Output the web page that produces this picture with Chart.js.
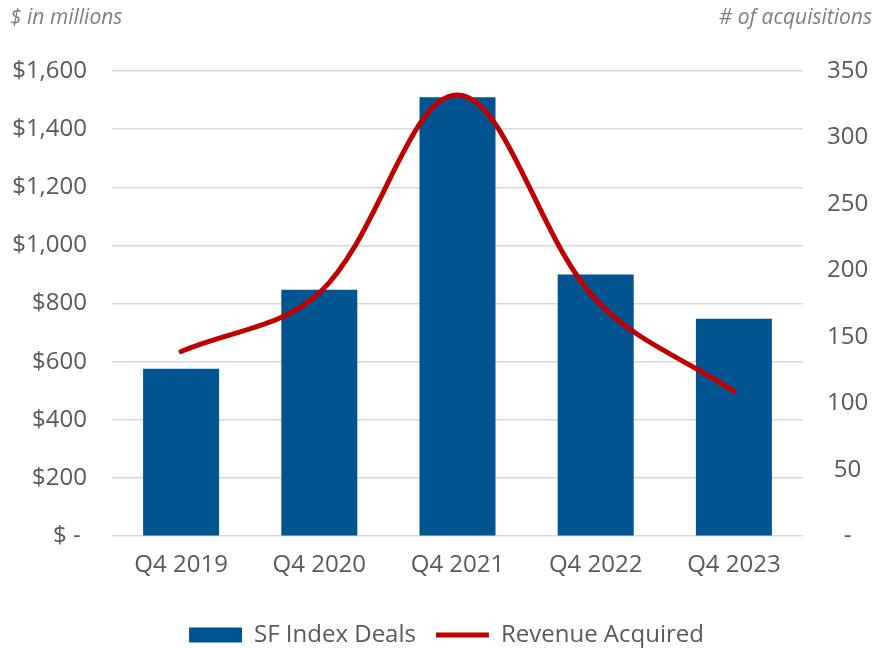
<!DOCTYPE html>
<html>
<head>
<meta charset="utf-8">
<script src="https://cdn.jsdelivr.net/npm/chart.js@4"></script>
<style>
  html, body { margin: 0; padding: 0; background: #ffffff; }
  #wrap { position: relative; width: 875px; height: 648px; }
</style>
</head>
<body>
<div id="wrap"><canvas id="c" width="875" height="648"></canvas></div>
<script>
const categories = ['Q4 2019', 'Q4 2020', 'Q4 2021', 'Q4 2022', 'Q4 2023'];
const dealValues = [576, 848, 1510, 900, 748];          // $ in millions (left axis)
const acquisitionCounts = [139, 183, 332, 178, 109];    // # of acquisitions (right axis)
const leftTicks = [0, 200, 400, 600, 800, 1000, 1200, 1400, 1600];
const rightTicks = [0, 50, 100, 150, 200, 250, 300, 350];
const seriesNames = ['SF Index Deals', 'Revenue Acquired'];
const axisTitles = ['$ in millions', '# of acquisitions'];

const textColor = '#595959';
const font = { family: "'Open Sans', sans-serif", size: 24 };

const titlesPlugin = {
  id: 'axisTitles',
  afterLayout(chart) {
    if (chart.legend) { chart.legend.left += 9; chart.legend.right += 9; }
  },
  afterDraw(chart) {
    const ctx = chart.ctx;
    ctx.save();
    ctx.fillStyle = '#7f7f7f';
    ctx.font = "italic 21px 'Open Sans', sans-serif";
    ctx.textBaseline = 'middle';
    ctx.textAlign = 'left';
    ctx.fillText(axisTitles[0], 10, 18);
    ctx.textAlign = 'right';
    ctx.fillText(axisTitles[1], 872, 18);
    ctx.restore();
  }
};

new Chart(document.getElementById('c'), {
  type: 'bar',
  data: {
    labels: categories,
    datasets: [
      {
        type: 'bar',
        label: seriesNames[0],
        data: dealValues,
        backgroundColor: '#005591',
        borderWidth: 0,
        yAxisID: 'y',
        order: 1,
        barPercentage: 0.55,
        categoryPercentage: 1.0,
        pointStyle: 'rect'
      },
      {
        type: 'line',
        label: seriesNames[1],
        data: acquisitionCounts,
        borderColor: '#C00000',
        backgroundColor: '#C00000',
        borderWidth: 5,
        borderCapStyle: 'round',
        tension: 0.35,
        pointRadius: 0,
        pointStyle: 'line',
        fill: false,
        yAxisID: 'y1',
        order: 0
      }
    ]
  },
  options: {
    responsive: false,
    animation: false,
    layout: { padding: { top: 71, bottom: -9, left: 0, right: 0 } },
    plugins: {
      tooltip: { enabled: false },
      legend: {
        position: 'bottom',
        labels: {
          usePointStyle: true,
          pointStyleWidth: 53,
          boxHeight: 15,
          padding: 20,
          color: textColor,
          font: font,
          sort: (a, b) => a.datasetIndex - b.datasetIndex
        }
      }
    },
    scales: {
      x: {
        grid: { display: false, drawTicks: false },
        border: { display: false },
        afterFit: (s) => { s.height += 8; },
        ticks: { color: textColor, font: font, padding: 15 }
      },
      y: {
        position: 'left',
        min: 0,
        max: 1600,
        afterBuildTicks: (s) => { s.ticks = leftTicks.map(v => ({ value: v })); },
        afterFit: (s) => { s.width = 112; },
        grid: { color: '#d9d9d9', lineWidth: 1.5, drawTicks: false },
        border: { display: false },
        ticks: {
          color: textColor,
          font: font,
          padding: 25,
          callback: (v) => v === 0 ? '$ - ' : '$' + v.toLocaleString('en-US')
        }
      },
      y1: {
        position: 'right',
        min: 0,
        max: 350,
        afterBuildTicks: (s) => { s.ticks = rightTicks.map(v => ({ value: v })); },
        afterFit: (s) => { s.width = 72; },
        grid: { display: false, drawTicks: false },
        border: { display: false },
        ticks: {
          color: textColor,
          font: font,
          padding: 24,
          crossAlign: 'center',
          callback: (v) => v === 0 ? '-' : String(v)
        }
      }
    }
  },
  plugins: [titlesPlugin]
});
</script>
</body>
</html>
